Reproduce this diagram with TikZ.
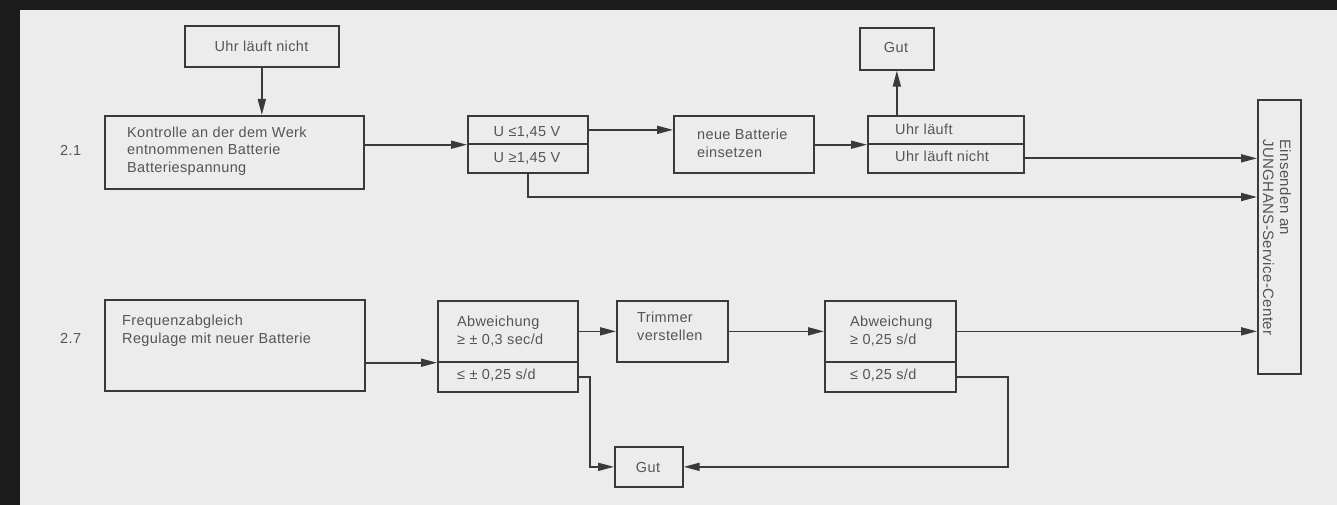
\documentclass[tikz,border=0pt]{standalone}
\usepackage{fontspec}
\setmainfont{Liberation Sans}[LetterSpace=2.5]
\usetikzlibrary{arrows.meta}
\definecolor{bgc}{HTML}{ECECEC}
\definecolor{framec}{HTML}{1C1C1C}
\definecolor{linec}{HTML}{3A3A3A}
\definecolor{txtc}{HTML}{555555}
\begin{document}
\begin{tikzpicture}[x=1pt,y=-1pt,
  box/.style={draw=linec, line width=1.7pt, inner sep=0pt, anchor=north west},
  txt/.style={text=txtc, font=\fontsize{14.5}{17.5}\selectfont, inner sep=0pt, align=left, anchor=base west},
  ctxt/.style={txt, anchor=base},
  arr/.style={draw=linec, line width=1.7pt, -{Triangle[length=16pt,width=8pt]}}]
\useasboundingbox (0,0) rectangle (1337,505);
\fill[framec] (0,0) rectangle (1337,505);
\fill[bgc] (20,10) rectangle (1337,505);

% boxes
\node[box, minimum width=154pt, minimum height=41pt] (uln) at (184,25) {};
\node[box, minimum width=259pt, minimum height=73pt] (kon) at (104,115) {};
\node[box, minimum width=120pt, minimum height=28pt] (ule) at (467,115) {};
\node[box, minimum width=120pt, minimum height=29pt] (uge) at (467,143) {};
\node[box, minimum width=140pt, minimum height=57pt] (nb) at (673,115) {};
\node[box, minimum width=156pt, minimum height=28pt] (ul) at (867,115) {};
\node[box, minimum width=156pt, minimum height=29pt] (ulnn) at (867,143) {};
\node[box, minimum width=74pt, minimum height=42pt] (gut1) at (859,27) {};
\node[box, minimum width=43pt, minimum height=274pt] (jung) at (1257,99) {};
\node[box, minimum width=260pt, minimum height=91pt] (freq) at (104,299) {};
\node[box, minimum width=140pt, minimum height=61pt] (a1t) at (437,300) {};
\node[box, minimum width=140pt, minimum height=30pt] (a1b) at (437,361) {};
\node[box, minimum width=111pt, minimum height=61pt] (trim) at (616,300) {};
\node[box, minimum width=131pt, minimum height=61pt] (a2t) at (824,300) {};
\node[box, minimum width=131pt, minimum height=30pt] (a2b) at (824,361) {};
\node[box, minimum width=68pt, minimum height=40pt] (gut2) at (614,446) {};

% texts (base = baseline of the last line)
\node[txt] (lbl21) at (60,156) {2.1};
\node[txt] (lbl27) at (60,343) {2.7};
\node[ctxt] (ulnt) at (261.5,52) {Uhr läuft nicht};
\node[txt] (kont) at (127,172) {Kontrolle an der dem Werk\\entnommenen Batterie\\Batteriespannung};
\node[ctxt] (ulet) at (527,137) {U ≤1,45 V};
\node[ctxt] (uget) at (527,163) {U ≥1,45 V};
\node[txt] (nbt) at (697,157.5) {neue Batterie\\einsetzen};
\node[txt] (ult) at (895,135) {Uhr läuft};
\node[txt] (ulnnt) at (895,162) {Uhr läuft nicht};
\node[ctxt] (gut1t) at (896,53) {Gut};
\node[text=txtc, font=\fontsize{15}{17}\selectfont, inner sep=0pt, align=left, rotate=-90] (jungt) at (1277,237.5) {Einsenden an\\JUNGHANS-Service-Center};
\node[txt] (freqt) at (122,343) {Frequenzabgleich\\Regulage mit neuer Batterie};
\node[txt] (a1tt) at (457,344) {Abweichung\\≥ ± 0,3 sec/d};
\node[txt] (a1bt) at (457,379) {≤ ± 0,25 s/d};
\node[txt] (trimt) at (637,340) {Trimmer\\verstellen};
\node[txt] (a2tt) at (850,344) {Abweichung\\≥ 0,25 s/d};
\node[txt] (a2bt) at (850,379) {≤ 0,25 s/d};
\node[ctxt] (gut2t) at (648,472) {Gut};

% connectors
\draw[arr] (uln.south) -- (uln.south |- kon.north);
\draw[arr] (kon.east |- ule.south) -- (ule.south west);
\draw[arr] (ule.east) -- (ule.east -| nb.west);
\draw[arr] (nb.east |- ul.south) -- (ul.south west);
\draw[arr] (gut1.south |- ul.north) -- (gut1.south);
\draw[arr] (ulnn.east) -- (ulnn.east -| jung.west);
\draw[arr] (uge.south) |- (jung.west |- 0,197);
\draw[arr] (freq.east |- a1t.south) -- (a1t.south west);
\draw[arr] (a1t.east) -- (trim.west);
\draw[arr] (trim.east) -- (a2t.west);
\draw[arr] (a2t.east) -- (a2t.east -| jung.west);
\draw[arr] (a1b.east) -- ++(11,0) |- (gut2.west);
\draw[arr] (a2b.east) -- ++(51,0) |- (gut2.east);
\end{tikzpicture}
\end{document}
